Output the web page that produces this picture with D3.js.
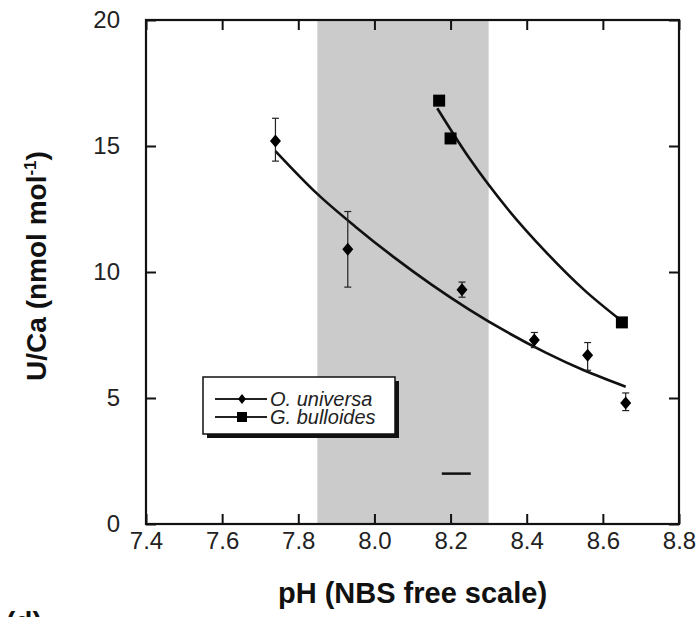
<!DOCTYPE html>
<html>
<head>
<meta charset="utf-8">
<script src="https://cdn.jsdelivr.net/npm/d3@7"></script>
<style>
  body { margin: 0; background: #fff; }
  svg { display: block; }
</style>
</head>
<body>
<div id="chart"></div>
<script>
// data
const xTicks = [7.4, 7.6, 7.8, 8.0, 8.2, 8.4, 8.6, 8.8];
const yTicks = [0, 5, 10, 15, 20];

const ouPH = [7.74, 7.93, 8.23, 8.42, 8.56, 8.66];
const ouUCa = [15.2, 10.9, 9.3, 7.3, 6.7, 4.8];
const ouLow = [14.4, 9.4, 9.0, 7.0, 6.1, 4.5];
const ouHigh = [16.1, 12.4, 9.6, 7.6, 7.2, 5.2];

const gbPH = [8.17, 8.20, 8.65];
const gbUCa = [16.8, 15.3, 8.0];

// fitted curves
const ouFitPH = [7.74, 7.85, 7.95, 8.05, 8.15, 8.25, 8.35, 8.45, 8.55, 8.66];
const ouFitUCa = [14.8, 13.1, 11.8, 10.6, 9.5, 8.5, 7.6, 6.8, 6.1, 5.45];
const gbFitPH = [8.165, 8.25, 8.35, 8.45, 8.55, 8.65];
const gbFitUCa = [16.5, 14.5, 12.5, 10.8, 9.3, 8.05];

const shadePH = [7.85, 8.30];
const pHBarX = [8.177, 8.253];
const pHBarY = 2.0;

const legendNames = ["O. universa", "G. bulloides"];

// layout
const W = 699, H = 617;
const margin = { top: 20, right: 20, bottom: 93, left: 146 },
    width = W - margin.left - margin.right,
    height = H - margin.top - margin.bottom;

const svg = d3.select("#chart").append("svg")
    .attr("width", W)
    .attr("height", H)
    .style("font-family", "'Liberation Sans', Arial, Helvetica, sans-serif");

const g = svg.append("g")
    .attr("transform", `translate(${margin.left}, ${margin.top})`);

const x = d3.scaleLinear().domain([7.4, 8.8]).range([0, width]);
const y = d3.scaleLinear().domain([0, 20]).range([height, 0]);

// shaded pH band
g.append("rect")
    .attr("x", x(shadePH[0]))
    .attr("y", 0)
    .attr("width", x(shadePH[1]) - x(shadePH[0]))
    .attr("height", height)
    .attr("fill", "#cbcbcb");

// axes with inward ticks
const fmt = d3.format(".1f");
const axBottom = g.append("g")
    .attr("transform", `translate(0, ${height})`)
    .call(d3.axisBottom(x).tickValues(xTicks).tickFormat(fmt).tickSizeInner(-10).tickSizeOuter(0).tickPadding(8));
const axTop = g.append("g")
    .call(d3.axisTop(x).tickValues(xTicks).tickFormat("").tickSizeInner(-10).tickSizeOuter(0));
const axLeft = g.append("g")
    .call(d3.axisLeft(y).tickValues(yTicks).tickSizeInner(-10).tickSizeOuter(0).tickPadding(26));
const axRight = g.append("g")
    .attr("transform", `translate(${width}, 0)`)
    .call(d3.axisRight(y).tickValues(yTicks).tickFormat("").tickSizeInner(-10).tickSizeOuter(0));

[axBottom, axTop, axLeft, axRight].forEach(a => {
    a.select(".domain").remove();
    a.selectAll("line").attr("stroke", "#111").attr("stroke-width", 2);
    a.selectAll("text")
        .attr("fill", "#222")
        .style("font-size", "24px")
        .style("font-family", "'Liberation Sans', Arial, Helvetica, sans-serif");
});

// frame
g.append("rect")
    .attr("width", width)
    .attr("height", height)
    .attr("fill", "none")
    .attr("stroke", "#111")
    .attr("stroke-width", 2.2);

// fit curves
const line = d3.line().x(d => x(d[0])).y(d => y(d[1])).curve(d3.curveMonotoneX);
g.append("path")
    .datum(ouFitPH.map((v, i) => [v, ouFitUCa[i]]))
    .attr("d", line)
    .attr("fill", "none")
    .attr("stroke", "#111")
    .attr("stroke-width", 2.6);
g.append("path")
    .datum(gbFitPH.map((v, i) => [v, gbFitUCa[i]]))
    .attr("d", line)
    .attr("fill", "none")
    .attr("stroke", "#111")
    .attr("stroke-width", 2.6);

// error bars for O. universa
const ou = ouPH.map((v, i) => ({ ph: v, u: ouUCa[i], lo: ouLow[i], hi: ouHigh[i] }));
const eb = g.selectAll(".err").data(ou).enter().append("g").attr("class", "err");
eb.append("line")
    .attr("x1", d => x(d.ph)).attr("x2", d => x(d.ph))
    .attr("y1", d => y(d.lo)).attr("y2", d => y(d.hi))
    .attr("stroke", "#222").attr("stroke-width", 1.2);
eb.append("line")
    .attr("x1", d => x(d.ph) - 3.5).attr("x2", d => x(d.ph) + 3.5)
    .attr("y1", d => y(d.hi)).attr("y2", d => y(d.hi))
    .attr("stroke", "#222").attr("stroke-width", 1.2);
eb.append("line")
    .attr("x1", d => x(d.ph) - 3.5).attr("x2", d => x(d.ph) + 3.5)
    .attr("y1", d => y(d.lo)).attr("y2", d => y(d.lo))
    .attr("stroke", "#222").attr("stroke-width", 1.2);

const diamond = "M0,-6.5L5.5,0L0,6.5L-5.5,0Z";
g.selectAll(".ou").data(ou).enter().append("path")
    .attr("class", "ou")
    .attr("d", diamond)
    .attr("transform", d => `translate(${x(d.ph)}, ${y(d.u)})`)
    .attr("fill", "#000");

// G. bulloides squares
g.selectAll(".gb").data(gbPH.map((v, i) => [v, gbUCa[i]])).enter().append("rect")
    .attr("class", "gb")
    .attr("x", d => x(d[0]) - 6)
    .attr("y", d => y(d[1]) - 6)
    .attr("width", 12)
    .attr("height", 12)
    .attr("fill", "#000");

// pH uncertainty bar
g.append("line")
    .attr("x1", x(pHBarX[0])).attr("x2", x(pHBarX[1]))
    .attr("y1", y(pHBarY)).attr("y2", y(pHBarY))
    .attr("stroke", "#111").attr("stroke-width", 2.5);

// legend
const lg = svg.append("g").attr("transform", "translate(203, 377)");
lg.append("rect").attr("x", 4).attr("y", 4).attr("width", 192).attr("height", 57).attr("fill", "#111");
lg.append("rect").attr("width", 192).attr("height", 57).attr("fill", "#fff")
    .attr("stroke", "#111").attr("stroke-width", 1.5);
legendNames.forEach((name, i) => {
    const ry = 22 + i * 18;
    lg.append("line").attr("x1", 12).attr("x2", 64).attr("y1", ry).attr("y2", ry)
        .attr("stroke", "#222").attr("stroke-width", 2);
    if (i === 0) {
        lg.append("path").attr("d", "M0,-5L4,0L0,5L-4,0Z")
            .attr("transform", `translate(39, ${ry})`).attr("fill", "#000");
    } else {
        lg.append("rect").attr("x", 34).attr("y", ry - 5).attr("width", 10).attr("height", 10).attr("fill", "#000");
    }
    lg.append("text")
        .attr("x", 67)
        .attr("y", ry + 7)
        .style("font-size", "20px")
        .style("font-style", "italic")
        .attr("fill", "#222")
        .text(name);
});

// axis titles
svg.append("text")
    .attr("x", margin.left + width / 2)
    .attr("y", 603)
    .attr("text-anchor", "middle")
    .style("font-size", "29px")
    .style("font-weight", "700")
    .attr("fill", "#111")
    .text("pH (NBS free scale)");

const yt = svg.append("text")
    .attr("transform", "translate(46, 266) rotate(-90)")
    .attr("text-anchor", "middle")
    .style("font-size", "28px")
    .style("font-weight", "700")
    .attr("fill", "#111");
yt.append("tspan").text("U/Ca (nmol mol");
yt.append("tspan").attr("dy", -10).style("font-size", "17px").text("-1");
yt.append("tspan").attr("dy", 10).text(")");

// panel label, cut off at the bottom edge
svg.append("text")
    .attr("x", 6)
    .attr("y", 631)
    .style("font-size", "28px")
    .style("font-weight", "700")
    .attr("fill", "#111")
    .text("(d)");
</script>
</body>
</html>
